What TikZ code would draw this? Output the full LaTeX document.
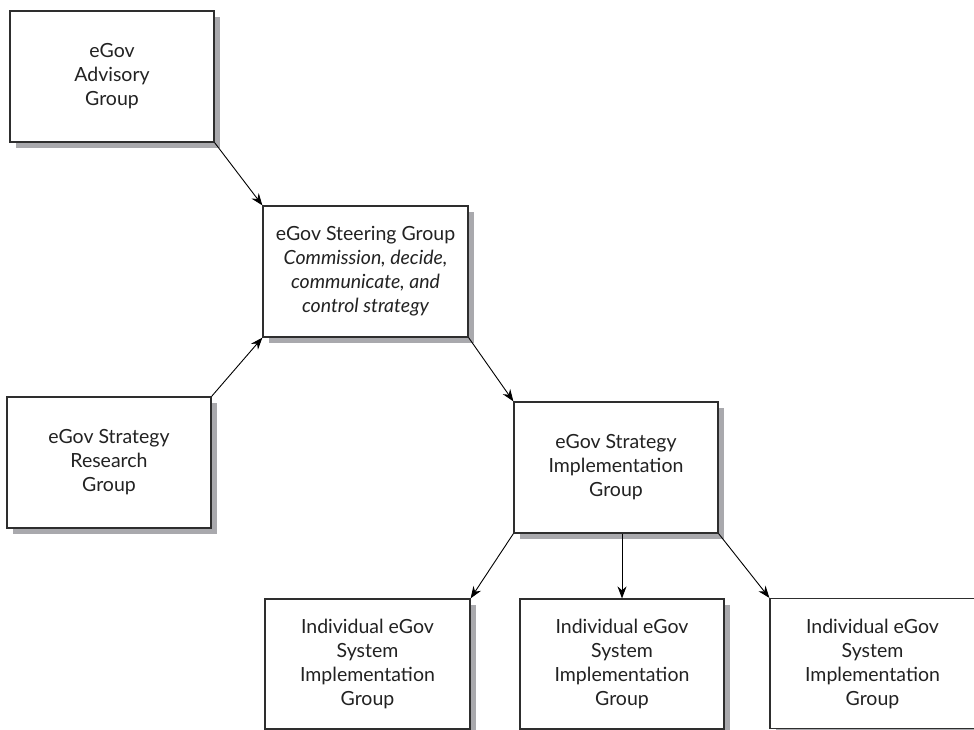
\documentclass[tikz,border=0pt]{standalone}
\usepackage{fontspec}
\setmainfont{Lato}
\usetikzlibrary{arrows.meta,shadows}
\definecolor{boxline}{HTML}{2E2E2E}
\definecolor{shade}{HTML}{A9A9AD}
\definecolor{ink}{HTML}{222222}
\tikzset{
  unit/.style={
    draw=boxline, line width=1.2pt, fill=white, text=ink,
    minimum width=204pt, minimum height=131pt, inner sep=0pt,
    align=center, font=\fontsize{19.5}{24}\selectfont,
    drop shadow={fill=shade, opacity=1, shadow xshift=6pt, shadow yshift=-6pt}
  },
  link/.style={draw=black, line width=0.9pt,
    -{Stealth[length=12pt,width=9pt]}}
}
\begin{document}
\begin{tikzpicture}[x=1pt,y=-1pt]
  \useasboundingbox (0,0) rectangle (974,730);
  \clip (0,0) rectangle (974,730);
  \fill[white] (0,0) rectangle (974,730);

  \node[unit] (adv) at (112,76.5) {eGov\\Advisory\\Group};
  \node[unit, minimum width=205pt] (steer) at (365.5,271.5)
    {eGov Steering Group\\\itshape Commission, decide,\\\itshape communicate, and\\\itshape control strategy};
  \node[unit] (res) at (109,462.5) {eGov Strategy\\Research\\Group};
  \node[unit] (impl) at (616,467.5) {eGov Strategy\\Implementation\\Group};

  \node[unit, minimum width=205pt, minimum height=130pt] (sysa) at (367.5,664)
    {Individual eGov\\System\\Implementation\\Group};
  \node[unit, minimum height=130pt] (sysb) at (622,664)
    {Individual eGov\\System\\Implementation\\Group};
  \node[unit, minimum width=205pt, minimum height=130pt] (sysc) at (872.5,663.5)
    {Individual eGov\\System\\Implementation\\Group};

  \draw[link] (adv.south east) -- (steer.north west);
  \draw[link] (res.north east) -- (steer.south west);
  \draw[link] (steer.south east) -- (impl.north west);
  \draw[link] (impl.south west) -- (sysa.north east);
  \draw[link] (impl.south -| sysb.north) -- (sysb.north);
  \draw[link] (impl.south east) -- (sysc.north west);
\end{tikzpicture}
\end{document}
